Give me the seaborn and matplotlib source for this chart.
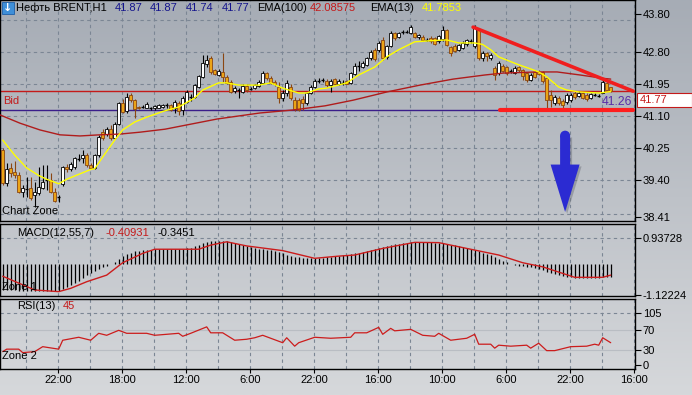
# %% imports
import numpy as np
import pandas as pd
import matplotlib
matplotlib.use("Agg")
import matplotlib.pyplot as plt
import seaborn as sns
from matplotlib.patches import Rectangle, FancyArrow, Ellipse

sns.set_theme(style="ticks")
plt.rcParams['font.family'] = ['Liberation Sans', 'DejaVu Sans']

# %% data (H1 candles)
opens = [40.20, 39.31, 39.72, 39.62, 39.53, 39.09, 39.16, 39.19, 39.00, 39.06,
         39.18, 39.40, 39.40, 39.09, 38.94, 39.30, 39.75, 39.70, 39.75, 39.97,
         39.98, 40.06, 39.80, 39.72, 40.06, 40.68, 40.63, 40.76, 40.52, 40.89,
         41.45, 41.22, 41.66, 41.52, 41.33, 41.35, 41.32, 41.30, 41.30, 41.32,
         41.33, 41.39, 41.39, 41.31, 41.44, 41.26, 41.47, 41.60, 41.60, 41.87,
         42.13, 42.48, 42.64, 42.31, 42.19, 42.27, 42.14, 42.00, 41.76, 41.79,
         41.74, 41.90, 41.82, 41.85, 41.90, 41.98, 42.24, 42.10, 42.00, 41.87,
         41.58, 41.71, 41.87, 41.52, 41.52, 41.55, 41.45, 41.71, 41.87, 42.03,
         42.06, 42.04, 41.92, 42.08, 41.95, 41.98, 42.02, 41.98, 42.22, 42.42,
         42.41, 42.45, 42.64, 42.85, 42.85, 43.12, 42.68, 42.95, 43.30, 43.20,
         43.34, 43.34, 43.30, 43.30, 43.20, 43.20, 43.12, 43.18, 43.17, 43.10,
         43.15, 43.39, 42.93, 42.96, 42.85, 42.90, 43.00, 43.10, 42.95, 43.40,
         42.64, 42.76, 42.64, 42.38, 42.24, 42.43, 42.40, 42.30, 42.25, 42.40,
         42.33, 42.24, 42.06, 42.27, 42.28, 42.27, 42.10, 41.66, 41.45, 41.58,
         41.50, 41.47, 41.52, 41.72, 41.63, 41.70, 41.66, 41.58, 41.66, 41.64,
         41.72, 41.98, 41.87]
highs = [40.25, 39.85, 39.85, 39.90, 39.60, 39.27, 39.49, 39.49, 39.36, 39.75,
         39.80, 39.80, 39.58, 39.20, 39.00, 39.78, 39.82, 39.88, 40.02, 40.08,
         40.20, 40.12, 39.85, 40.10, 40.60, 40.75, 40.82, 40.85, 40.95, 41.48,
         41.55, 41.72, 41.72, 41.55, 41.36, 41.40, 41.46, 41.34, 41.38, 41.42,
         41.43, 41.45, 41.42, 41.52, 41.50, 41.62, 41.78, 41.68, 41.95, 42.20,
         42.72, 42.72, 42.70, 42.35, 42.35, 42.77, 42.18, 42.06, 41.90, 41.85,
         41.95, 41.95, 41.86, 41.96, 42.05, 42.30, 42.28, 42.15, 42.05, 42.00,
         41.80, 42.05, 41.95, 41.60, 41.58, 41.62, 41.75, 41.92, 42.08, 42.10,
         42.12, 42.08, 42.08, 42.12, 42.08, 42.05, 42.06, 42.28, 42.50, 42.55,
         42.56, 42.68, 42.85, 42.90, 43.08, 43.20, 42.98, 43.35, 43.34, 43.34,
         43.38, 43.38, 43.52, 43.34, 43.28, 43.24, 43.16, 43.22, 43.20, 43.26,
         43.48, 43.42, 42.96, 43.00, 43.02, 43.08, 43.15, 43.15, 43.52, 43.45,
         42.82, 42.80, 42.76, 42.42, 42.56, 42.48, 42.44, 42.36, 42.42, 42.44,
         42.36, 42.28, 42.24, 42.32, 42.32, 42.30, 42.14, 41.78, 41.66, 41.62,
         41.56, 41.72, 41.70, 41.76, 41.76, 41.74, 41.70, 41.72, 41.70, 41.68,
         42.05, 42.02, 41.87]
lows = [39.28, 39.24, 39.48, 39.45, 39.05, 38.96, 38.96, 38.88, 38.69, 39.00,
        39.15, 39.13, 39.05, 38.82, 38.82, 39.24, 39.60, 39.65, 39.70, 39.90,
        39.85, 39.75, 39.68, 39.68, 40.00, 40.45, 40.58, 40.45, 40.48, 40.85,
        41.18, 41.18, 41.48, 41.05, 41.28, 41.30, 41.30, 41.27, 41.27, 41.30,
        41.30, 41.30, 41.24, 41.18, 41.13, 41.13, 41.45, 41.50, 41.58, 41.85,
        42.10, 42.40, 42.22, 42.18, 42.15, 42.00, 41.95, 41.70, 41.72, 41.58,
        41.70, 41.75, 41.78, 41.82, 41.88, 41.95, 42.05, 41.95, 41.90, 41.45,
        41.50, 41.62, 41.52, 41.24, 41.22, 41.26, 41.40, 41.68, 41.85, 41.98,
        42.00, 41.88, 41.75, 41.92, 41.92, 41.93, 41.94, 41.95, 42.20, 42.30,
        42.38, 42.42, 42.60, 42.55, 42.80, 42.60, 42.62, 42.92, 43.12, 43.16,
        43.28, 43.30, 43.28, 43.16, 43.14, 43.08, 43.08, 43.05, 42.98, 43.05,
        43.10, 42.95, 42.70, 42.80, 42.82, 42.88, 42.96, 43.05, 42.90, 42.58,
        42.55, 42.57, 42.60, 42.05, 42.20, 42.26, 42.20, 42.24, 42.22, 42.28,
        42.05, 42.00, 42.02, 42.10, 42.18, 41.98, 41.26, 41.35, 41.40, 41.40,
        41.28, 41.42, 41.48, 41.56, 41.60, 41.54, 41.50, 41.54, 41.62, 41.60,
        41.70, 41.78, 41.74]
closes = [39.32, 39.68, 39.59, 39.53, 39.09, 39.19, 39.16, 38.92, 39.09, 39.21,
          39.36, 39.40, 39.09, 38.85, 38.94, 39.75, 39.68, 39.82, 39.98, 39.97,
          40.06, 39.80, 39.71, 40.06, 40.55, 40.51, 40.76, 40.52, 40.89, 41.45,
          41.20, 41.60, 41.52, 41.28, 41.30, 41.35, 41.43, 41.30, 41.36, 41.38,
          41.40, 41.39, 41.26, 41.48, 41.23, 41.58, 41.74, 41.60, 41.92, 42.16,
          42.50, 42.60, 42.27, 42.22, 42.29, 42.14, 41.98, 41.74, 41.85, 41.79,
          41.90, 41.78, 41.82, 41.93, 42.00, 42.24, 42.10, 41.98, 41.95, 41.58,
          41.71, 41.98, 41.58, 41.28, 41.26, 41.45, 41.71, 41.87, 42.03, 42.03,
          42.06, 41.92, 42.04, 41.95, 42.04, 41.98, 41.96, 42.24, 42.43, 42.42,
          42.52, 42.64, 42.80, 42.61, 43.04, 42.64, 42.95, 43.30, 43.17, 43.30,
          43.34, 43.34, 43.46, 43.20, 43.26, 43.12, 43.12, 43.10, 43.01, 43.22,
          43.39, 42.99, 42.78, 42.83, 42.98, 43.05, 43.12, 43.10, 43.43, 42.64,
          42.78, 42.70, 42.72, 42.19, 42.52, 42.30, 42.25, 42.30, 42.38, 42.32,
          42.16, 42.06, 42.19, 42.13, 42.22, 42.02, 41.52, 41.52, 41.60, 41.45,
          41.38, 41.66, 41.66, 41.60, 41.72, 41.58, 41.55, 41.69, 41.66, 41.64,
          42.00, 41.80, 41.77]

# EMA lines, read at points along the curve (bar index, price)
ema13_k = [0, 3, 6, 9, 11, 14, 16, 19, 22, 23, 25, 28, 30, 33, 36, 40, 44, 48, 50, 54,
           56, 59, 64, 67, 70, 74, 76, 79, 81, 86, 89, 93, 96, 99, 103, 107, 111, 114,
           118, 120, 122, 124, 129, 132, 134, 136, 139, 141, 144, 149, 152]
ema13_p = [40.46, 40.06, 39.72, 39.52, 39.42, 39.30, 39.42, 39.55, 39.68, 39.70, 40.01,
           40.46, 40.73, 40.94, 41.07, 41.22, 41.34, 41.58, 41.79, 41.98, 41.98, 41.92,
           41.92, 41.98, 41.84, 41.71, 41.71, 41.82, 41.84, 41.98, 42.19, 42.40, 42.67,
           42.86, 43.07, 43.10, 43.12, 43.04, 43.04, 43.00, 42.86, 42.67, 42.46, 42.35,
           42.27, 42.14, 41.87, 41.79, 41.74, 41.71, 41.75]
ema100_k = [-0.7, 4.3, 9.3, 14.3, 19.3, 24.3, 29.3, 34.3, 40.6, 53.6, 64.3, 72.6, 80.6,
            87.6, 96.1, 104.3, 112.6, 120.6, 125.1, 133.6, 138.6, 144.3, 150.1, 152]
ema100_p = [41.13, 40.91, 40.73, 40.60, 40.57, 40.60, 40.62, 40.67, 40.75, 41.02, 41.18,
            41.26, 41.37, 41.52, 41.74, 41.92, 42.08, 42.19, 42.24, 42.27, 42.27, 42.19,
            42.10, 42.08]

# MACD(12,55,7): histogram per bar + signal line points
macd_hist = [-0.93, -0.94, -0.95, -0.95, -0.96, -0.96, -0.96, -0.97, -0.97, -0.97,
             -0.96, -0.96, -0.96, -0.97, -0.97, -0.92, -0.84, -0.76, -0.68, -0.60,
             -0.50, -0.40, -0.33, -0.25, -0.18, -0.12, -0.06, 0.00, 0.06, 0.18,
             0.28, 0.36, 0.42, 0.46, 0.49, 0.51, 0.52, 0.53, 0.54, 0.54,
             0.55, 0.55, 0.55, 0.55, 0.55, 0.56, 0.57, 0.60, 0.65, 0.71,
             0.77, 0.81, 0.83, 0.84, 0.85, 0.85, 0.84, 0.80, 0.76, 0.72,
             0.68, 0.64, 0.61, 0.58, 0.56, 0.55, 0.53, 0.51, 0.49, 0.44,
             0.39, 0.34, 0.30, 0.26, 0.24, 0.22, 0.21, 0.21, 0.21, 0.22,
             0.23, 0.24, 0.26, 0.28, 0.30, 0.32, 0.34, 0.36, 0.39, 0.42,
             0.45, 0.48, 0.52, 0.56, 0.60, 0.63, 0.66, 0.69, 0.72, 0.74,
             0.76, 0.78, 0.80, 0.81, 0.82, 0.82, 0.81, 0.80, 0.78, 0.77,
             0.75, 0.73, 0.70, 0.68, 0.66, 0.63, 0.59, 0.55, 0.51, 0.46,
             0.42, 0.38, 0.32, 0.26, 0.20, 0.13, 0.07, 0.01, -0.03, -0.06,
             -0.08, -0.09, -0.11, -0.14, -0.18, -0.22, -0.27, -0.32, -0.37, -0.41,
             -0.44, -0.47, -0.48, -0.49, -0.49, -0.50, -0.50, -0.50, -0.49, -0.49,
             -0.48, -0.47, -0.46]
signal_k = [0, 8, 14, 17, 21, 26, 30, 35, 38, 49, 52, 56, 61, 70, 78, 84, 88, 95, 103,
            109, 117, 124, 130, 135, 143, 150, 152]
signal_v = [-0.44, -0.94, -1.00, -0.88, -0.64, -0.40, 0.05, 0.39, 0.54, 0.54, 0.69, 0.81,
            0.66, 0.49, 0.21, 0.29, 0.33, 0.57, 0.79, 0.78, 0.54, 0.33, 0.05, -0.10,
            -0.48, -0.48, -0.40]

# RSI(13)
rsi_k = [0, 1, 4, 5, 8, 10, 14, 15, 19, 22, 24, 26, 29, 31, 36, 38, 44, 45, 47, 51, 52,
         55, 58, 61, 63, 65, 70, 71, 73, 74, 78, 82, 87, 88, 91, 94, 95, 97, 98, 102,
         105, 108, 109, 112, 116, 118, 119, 122, 123, 124, 127, 131, 132, 134, 136,
         138, 142, 146, 148, 149, 150, 152]
rsi_v = [27, 32, 32, 25, 27, 37, 32, 50, 56, 50, 64, 60, 70, 64, 64, 60, 64, 58, 64, 77,
         65, 65, 50, 52, 55, 60, 45, 55, 38, 45, 56, 54, 56, 65, 65, 76, 62, 74, 69, 72,
         60, 58, 64, 50, 54, 62, 42, 42, 34, 40, 38, 40, 34, 44, 29, 29, 37, 38, 42, 40,
         55, 45]

# drawings on the chart
trend_k = [117.6, 157.6]
trend_p = [43.46, 41.76]
support_k = [124.3, 157.6]
support_p = 41.25
ask_level = 41.25
bid = 41.77
arrow_k, arrow_top, arrow_tip, arrow_head = 140.6, 40.58, 38.55, 39.32

price_ticks = [43.80, 42.80, 41.95, 41.10, 40.25, 39.40, 38.41]
price_grid = [43.65, 42.80, 41.95, 41.10, 40.25, 39.40, 38.50]
time_labels = ['22:00', '18:00', '12:00', '6:00', '22:00', '16:00', '10:00', '6:00', '22:00', '16:00']

df = pd.DataFrame({'open': opens, 'high': highs, 'low': lows, 'close': closes, 'macd': macd_hist})
df['k'] = np.arange(len(df))

# %% figure
W, H = 692, 395
fig = plt.figure(figsize=(W / 100, H / 100), dpi=100)

def px_axes(x0, y0, x1, y1):
    return fig.add_axes([x0 / W, 1 - y1 / H, (x1 - x0) / W, (y1 - y0) / H])

def ftext(x, y, s, **kw):
    kw.setdefault('fontsize', 8)
    kw.setdefault('va', 'center')
    return fig.text(x / W, 1 - y / H, s, **kw)

# background gradient
bg = fig.add_axes([0, 0, 1, 1], zorder=-10)
top = np.array([166, 172, 181]) / 255
bot = np.array([214, 216, 219]) / 255
g = np.linspace(0, 1, 256)[:, None, None]
bg.imshow(top + (bot - top) * g, aspect='auto', extent=[0, 1, 0, 1])
bg.axis('off')

GRID = '#7b8694'
grid_k = np.arange(5.825, 158, 8)
label_k = 13.825 + 16 * np.arange(len(time_labels))
XLIM = (-0.675, 158.075)

ax = px_axes(0, 0, 635, 221)
ax_m = px_axes(0, 224, 635, 296)
ax_r = px_axes(0, 299, 635, 369)

for a in (ax, ax_m, ax_r):
    a.set_facecolor('none')
    a.set_xlim(*XLIM)
    for s in a.spines.values():
        s.set_color('black')
        s.set_linewidth(1)
    for gk in grid_k:
        a.axvline(gk, color=GRID, lw=0.8, ls=(0, (3, 3)), zorder=0)
    a.yaxis.tick_right()
    a.tick_params(axis='y', direction='out', length=4, width=0.8, pad=1.5,
                  labelsize=8, colors='black')
    a.tick_params(axis='x', bottom=False, labelbottom=False)

# %% price panel
ax.set_ylim(38.311, 44.181)
for p in price_grid:
    ax.axhline(p, color=GRID, lw=0.8, ls=(0, (3, 3)), zorder=0)
ax.set_yticks(price_ticks)
ax.set_yticklabels([f'{p:.2f}' for p in price_ticks])

up = df[df['close'] > df['open']]
dn = df[df['close'] < df['open']]
fl = df[df['close'] == df['open']]
ax.vlines(up['k'], up['low'], up['high'], color='black', lw=0.8, zorder=2)
ax.vlines(dn['k'], dn['low'], dn['high'], color='#8a4612', lw=0.8, zorder=2)
ax.vlines(fl['k'], fl['low'], fl['high'], color='black', lw=0.8, zorder=2)
ax.bar(up['k'], up['close'] - up['open'], bottom=up['open'], width=0.7, color='white',
       edgecolor='black', linewidth=0.6, zorder=3)
ax.bar(dn['k'], dn['close'] - dn['open'], bottom=dn['open'], width=0.7, color='#eba416',
       edgecolor='#8a4612', linewidth=0.6, zorder=3)
ax.hlines(fl['open'], fl['k'] - 0.4, fl['k'] + 0.4, color='black', lw=1, zorder=3)

ax.axhline(bid, color='#c41a1a', lw=1, zorder=1)
ax.axhline(ask_level, color='#3a1e8a', lw=1, zorder=1)
sns.lineplot(x=ema100_k, y=ema100_p, ax=ax, color='#b01c1c', lw=1, zorder=4)
sns.lineplot(x=ema13_k, y=ema13_p, ax=ax, color='#ffff00', lw=1, zorder=4)
ax.plot(trend_k, trend_p, color='#f01e1e', lw=2.6, solid_capstyle='round', zorder=5)
ax.plot(support_k, [support_p, support_p], color='#ff1e1e', lw=3, zorder=5)

ax.add_patch(FancyArrow(arrow_k + 0.5, arrow_top - 0.05, 0, arrow_tip - arrow_top,
                        width=2.5, head_width=7.25, head_length=arrow_top - arrow_head,
                        length_includes_head=True, color='#6c7078', alpha=0.45,
                        lw=0, zorder=5))
ax.add_patch(FancyArrow(arrow_k, arrow_top, 0, arrow_tip - arrow_top, width=2.5,
                        head_width=7.25, head_length=arrow_top - arrow_head,
                        length_includes_head=True, color='#2b2bd2', lw=0, zorder=6))
ax.add_patch(Ellipse((arrow_k, arrow_top), 2.5, 0.26, color='#2b2bd2', lw=0, zorder=6))
ax.set_xlabel('')
ax.set_ylabel('')

# %% MACD panel
ax_m.set_ylim(-1.1586, 1.4567)
ax_m.axhline(0.93728, color=GRID, lw=0.8, ls=(0, (3, 3)), zorder=0)
ax_m.vlines(df['k'], 0, df['macd'], color='black', lw=0.9, zorder=2)
sns.lineplot(x=signal_k, y=signal_v, ax=ax_m, color='#cc1c1c', lw=1, zorder=3)
ax_m.set_yticks([0.93728, -1.12224])
ax_m.set_yticklabels(['0.93728', '-1.12224'])
ax_m.set_xlabel('')
ax_m.set_ylabel('')

# %% RSI panel
ax_r.set_ylim(-8.08, 133.27)
ax_r.axhline(105, color=GRID, lw=0.8, ls=(0, (3, 3)), zorder=0)
for lv in (70, 30):
    ax_r.axhline(lv, color='#b9bdc3', lw=0.8, zorder=0)
sns.lineplot(x=rsi_k, y=rsi_v, ax=ax_r, color='#cc1c1c', lw=0.9, zorder=3)
ax_r.set_yticks([105, 70, 30, 0])
ax_r.set_yticklabels(['105', '70', '30', '0'])
ax_r.set_xticks(label_k)
ax_r.set_xticklabels(time_labels)
ax_r.tick_params(axis='x', bottom=True, labelbottom=True, direction='out', length=3,
                 width=0.8, pad=1.5, labelsize=8, colors='black')
ax_r.set_xlabel('')
ax_r.set_ylabel('')

# %% texts
fig.patches.append(Rectangle((2 / W, 1 - 14 / H), 12 / W, 12 / H, transform=fig.transFigure,
                             fc='#3f8fd8', ec='#1f5fa8', lw=0.6, figure=fig))
ftext(8, 8, '↓', color='white', fontsize=8, fontweight='bold', ha='center',
      family=['DejaVu Sans'])
ftext(16, 8, 'Нефть BRENT,H1', color='black')
for x, s in [(115, '41.87'), (150, '41.87'), (186, '41.74'), (222, '41.77')]:
    ftext(x, 8, s, color='#14148c')
ftext(257, 8, 'EMA(100)', color='black')
ftext(310, 8, '42.08575', color='#c41a1a')
ftext(370, 8, 'EMA(13)', color='black')
ftext(422, 8, '41.7853', color='#ffff00')

ftext(3, 101, 'Bid', color='#c41a1a')
ftext(2, 211, 'Chart Zone', color='black')
ftext(632, 102, '41.26', color='#5a2ea8', fontsize=8.8, ha='right')

fig.patches.append(Rectangle((637 / W, 1 - 107 / H), 55 / W, 14 / H, transform=fig.transFigure,
                             fc='white', ec='#c41a1a', lw=0.8, figure=fig))
ftext(640, 100, '41.77', color='#c41a1a')

ftext(17, 233, 'MACD(12,55,7)', color='black')
ftext(106, 233, '-0.40931', color='#c41a1a')
ftext(158, 233, '-0.3451', color='black')
ftext(2, 287, 'Zone 1', color='black')

ftext(17, 306, 'RSI(13)', color='black')
ftext(63, 306, '45', color='#c41a1a')
ftext(2, 356, 'Zone 2', color='black')

fig.savefig('out.png', dpi=100)
